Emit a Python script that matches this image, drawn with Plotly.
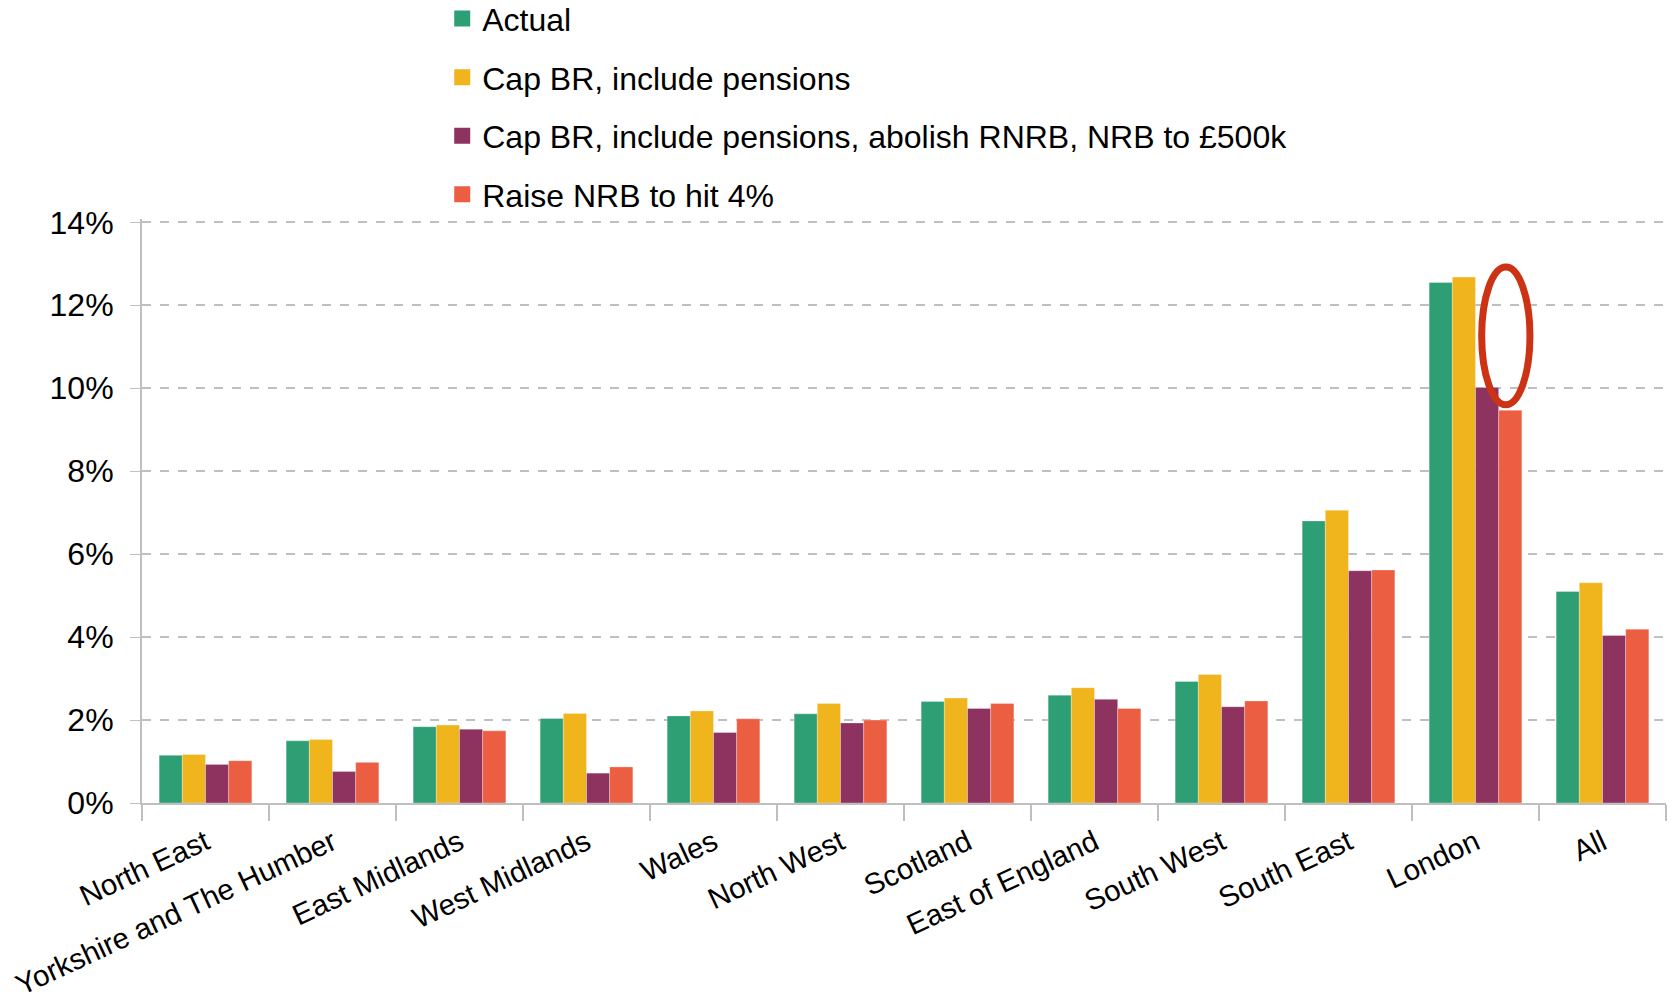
import plotly.graph_objects as go

regions = ["North East", "Yorkshire and The Humber", "East Midlands", "West Midlands",
           "Wales", "North West", "Scotland", "East of England", "South West",
           "South East", "London", "All"]

actual = [1.15, 1.50, 1.84, 2.04, 2.10, 2.15, 2.45, 2.60, 2.93, 6.80, 12.55, 5.10]
cap_br_pensions = [1.17, 1.53, 1.88, 2.16, 2.22, 2.40, 2.53, 2.78, 3.10, 7.06, 12.68, 5.31]
cap_br_abolish_rnrb = [0.93, 0.76, 1.78, 0.72, 1.70, 1.93, 2.28, 2.50, 2.32, 5.60, 10.02, 4.04]
raise_nrb_4pct = [1.02, 0.98, 1.74, 0.87, 2.03, 2.00, 2.40, 2.28, 2.46, 5.62, 9.47, 4.19]

series_names = ["Actual", "Cap BR, include pensions",
                "Cap BR, include pensions, abolish RNRB, NRB to £500k",
                "Raise NRB to hit 4%"]
series_values = [actual, cap_br_pensions, cap_br_abolish_rnrb, raise_nrb_4pct]
colors = ["#2E9E74", "#F0B41C", "#8E3360", "#EB5E42"]

y_ticks = [0, 2, 4, 6, 8, 10, 12, 14]
y_tick_labels = [f"{v}%" for v in y_ticks]

fig = go.Figure()
for i, (name, vals, col) in enumerate(zip(series_names, series_values, colors)):
    fig.add_trace(go.Bar(
        x=regions, y=vals, name=name, legendgroup=f"g{i}", showlegend=False,
        marker=dict(color=col, line=dict(color="rgba(255,255,255,0.5)", width=0.6)),
    ))
# Legend keys drawn as larger square swatches
for i, (name, col) in enumerate(zip(series_names, colors)):
    fig.add_trace(go.Scatter(
        x=[None], y=[None], mode="markers", name=name, legendgroup=f"g{i}",
        marker=dict(symbol="square", size=16, color=col),
    ))

# Highlight ring above the London scenario bars
bargap = 0.27
n_series = len(series_names)
bar_w = (1 - bargap) / n_series
london_idx = regions.index("London")
ring_cx = london_idx + (-0.5 + bargap / 2) + bar_w * 3.5 - 0.035
ring_hw = 0.19
ring_bottom = 9.6
ring_top = 12.92
fig.add_shape(type="circle", xref="x", yref="y",
              x0=ring_cx - ring_hw, x1=ring_cx + ring_hw,
              y0=ring_bottom, y1=ring_top,
              line=dict(color="#CC3314", width=7), layer="above")

fig.update_layout(
    width=1673, height=997,
    margin=dict(l=142, r=7, t=219, b=194, autoexpand=False),
    paper_bgcolor="white", plot_bgcolor="white",
    barmode="group", bargap=bargap, bargroupgap=0,
    font=dict(family="Liberation Sans, Arial, sans-serif", size=30, color="black"),
    showlegend=True,
    legend=dict(x=0.197, y=1.39, xanchor="left", yanchor="top",
                font=dict(size=32), tracegroupgap=14,
                bgcolor="rgba(0,0,0,0)", itemwidth=30, itemsizing="trace"),
)
fig.update_xaxes(
    type="category", tickangle=-25, tickson="boundaries", automargin=False,
    ticks="outside", ticklen=16, tickcolor="#BFBFBF", tickwidth=1.5,
    ticklabelstandoff=9,
    showline=True, linecolor="#BFBFBF", linewidth=2,
    showgrid=False, tickfont=dict(size=29.4),
)
fig.update_yaxes(
    range=[0, 14.08], tickvals=y_ticks, ticktext=y_tick_labels, automargin=False,
    ticks="outside", ticklen=10, tickcolor="#BFBFBF", ticklabelstandoff=10,
    showline=True, linecolor="#BFBFBF", linewidth=2,
    showgrid=True, gridcolor="#BFBFBF", griddash="dash", gridwidth=1.5,
    zeroline=False, tickfont=dict(size=32),
)

fig.write_html("out.html")
